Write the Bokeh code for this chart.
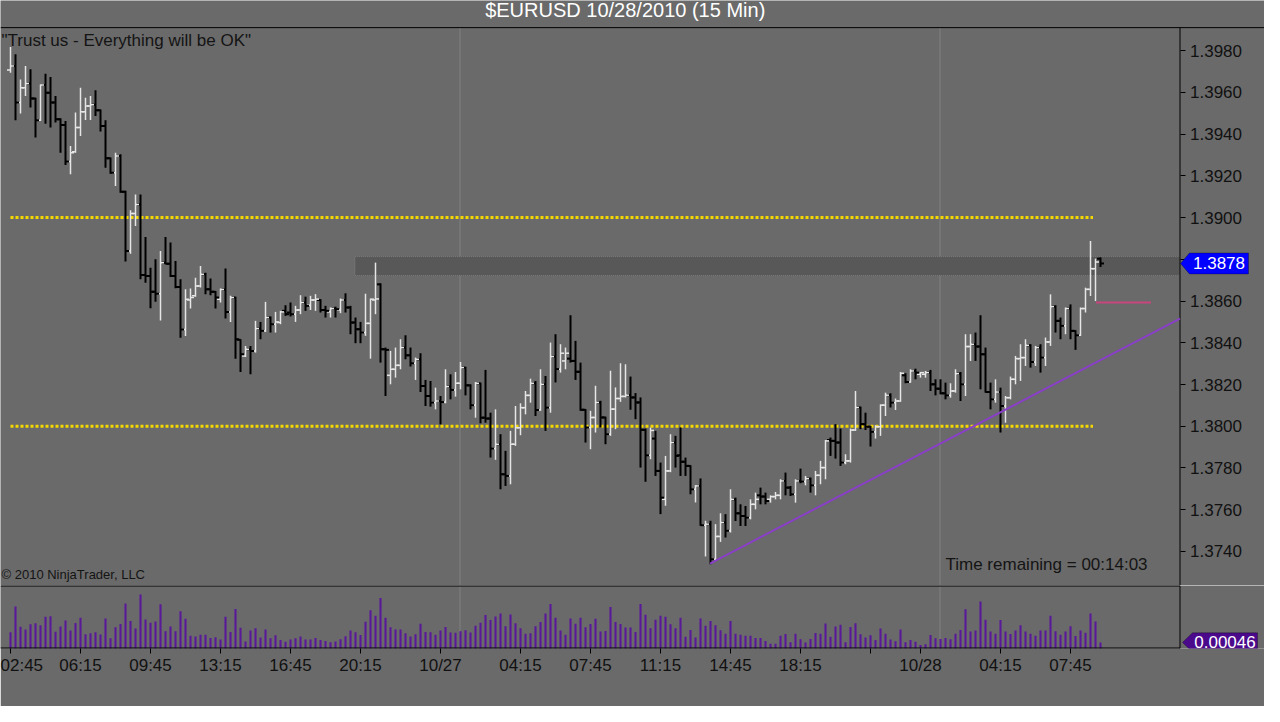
import numpy as np
from bokeh.plotting import figure
from bokeh.layouts import column
from bokeh.models import (ColumnDataSource, FixedTicker, Range1d, Span, BoxAnnotation,
                          Label, PolyAnnotation, NumeralTickFormatter)
from bokeh.embed import file_html
from bokeh.resources import INLINE

# ---------------- data: $EURUSD 15-min bars, 10/26 02:45 .. 10/28 09:15 ----------------
opens = [
    1.39707, 1.39726, 1.39551, 1.39622, 1.39642, 1.39570, 1.39466, 1.39635, 1.39598, 1.39551,
    1.39471, 1.39443, 1.39268, 1.39315, 1.39431, 1.39507, 1.39535, 1.39540, 1.39514, 1.39439,
    1.39284, 1.39215, 1.39295, 1.39124, 1.38840, 1.39019, 1.39063, 1.38725, 1.38720, 1.38645,
    1.38635, 1.38784, 1.38779, 1.38720, 1.38667, 1.38464, 1.38605, 1.38625, 1.38672, 1.38728,
    1.38657, 1.38644, 1.38609, 1.38655, 1.38548, 1.38617, 1.38414, 1.38337, 1.38369, 1.38361,
    1.38468, 1.38457, 1.38521, 1.38489, 1.38497, 1.38553, 1.38545, 1.38537, 1.38557, 1.38593,
    1.38580, 1.38605, 1.38605, 1.38557, 1.38548, 1.38564, 1.38557, 1.38605, 1.38569, 1.38497,
    1.38465, 1.38449, 1.38493, 1.38605, 1.38680, 1.38369, 1.38244, 1.38273, 1.38292, 1.38377,
    1.38340, 1.38302, 1.38321, 1.38193, 1.38145, 1.38113, 1.38121, 1.38116, 1.38190, 1.38174,
    1.38206, 1.38281, 1.38196, 1.38101, 1.38206, 1.38041, 1.38037, 1.37893, 1.37914, 1.37770,
    1.37762, 1.37914, 1.37993, 1.38089, 1.38148, 1.38206, 1.38078, 1.38201, 1.38089, 1.38334,
    1.38273, 1.38313, 1.38324, 1.38313, 1.38261, 1.38079, 1.37994, 1.38042, 1.38114, 1.38042,
    1.37962, 1.38082, 1.38133, 1.38143, 1.38149, 1.38138, 1.38114, 1.37983, 1.37861, 1.37941,
    1.37786, 1.37650, 1.37786, 1.37922, 1.37861, 1.37830, 1.37810, 1.37698, 1.37714, 1.37526,
    1.37531, 1.37363, 1.37472, 1.37539, 1.37499, 1.37650, 1.37583, 1.37570, 1.37562, 1.37626,
    1.37669, 1.37663, 1.37650, 1.37663, 1.37669, 1.37738, 1.37706, 1.37674, 1.37738, 1.37735,
    1.37749, 1.37717, 1.37765, 1.37802, 1.37934, 1.37930, 1.37922, 1.37826, 1.37834, 1.37982,
    1.38090, 1.38010, 1.37998, 1.37973, 1.37998, 1.38101, 1.38149, 1.38113, 1.38121, 1.38244,
    1.38212, 1.38265, 1.38249, 1.38249, 1.38257, 1.38201, 1.38180, 1.38158, 1.38148, 1.38169,
    1.38252, 1.38201, 1.38382, 1.38393, 1.38382, 1.38345, 1.38164, 1.38129, 1.38164, 1.38097,
    1.38137, 1.38225, 1.38324, 1.38329, 1.38388, 1.38308, 1.38377, 1.38329, 1.38404, 1.38573,
    1.38505, 1.38481, 1.38564, 1.38457, 1.38436, 1.38564, 1.38656, 1.38755, 1.38803,
]
highs = [
    1.39817, 1.39782, 1.39662, 1.39726, 1.39710, 1.39574, 1.39638, 1.39689, 1.39674, 1.39582,
    1.39476, 1.39463, 1.39343, 1.39503, 1.39622, 1.39574, 1.39582, 1.39610, 1.39518, 1.39466,
    1.39288, 1.39311, 1.39303, 1.39128, 1.39035, 1.39111, 1.39111, 1.38907, 1.38760, 1.38800,
    1.38840, 1.38907, 1.38880, 1.38792, 1.38704, 1.38656, 1.38660, 1.38712, 1.38768, 1.38736,
    1.38708, 1.38648, 1.38660, 1.38756, 1.38625, 1.38621, 1.38417, 1.38385, 1.38385, 1.38505,
    1.38500, 1.38596, 1.38526, 1.38548, 1.38553, 1.38580, 1.38593, 1.38577, 1.38628, 1.38621,
    1.38625, 1.38633, 1.38609, 1.38577, 1.38569, 1.38573, 1.38612, 1.38637, 1.38577, 1.38521,
    1.38500, 1.38635, 1.38612, 1.38784, 1.38685, 1.38377, 1.38361, 1.38377, 1.38417, 1.38436,
    1.38377, 1.38329, 1.38350, 1.38222, 1.38217, 1.38185, 1.38145, 1.38273, 1.38249, 1.38260,
    1.38308, 1.38285, 1.38201, 1.38212, 1.38209, 1.38270, 1.38065, 1.38081, 1.37962, 1.37882,
    1.37978, 1.38097, 1.38110, 1.38169, 1.38228, 1.38217, 1.38273, 1.38241, 1.38401, 1.38441,
    1.38393, 1.38377, 1.38532, 1.38409, 1.38305, 1.38082, 1.38074, 1.38194, 1.38122, 1.38046,
    1.38266, 1.38186, 1.38302, 1.38297, 1.38238, 1.38159, 1.38138, 1.37989, 1.37994, 1.37978,
    1.37826, 1.37858, 1.37962, 1.37954, 1.37994, 1.37850, 1.37813, 1.37718, 1.37750, 1.37547,
    1.37547, 1.37531, 1.37583, 1.37579, 1.37698, 1.37658, 1.37626, 1.37618, 1.37650, 1.37682,
    1.37706, 1.37682, 1.37669, 1.37685, 1.37746, 1.37778, 1.37714, 1.37746, 1.37797, 1.37762,
    1.37754, 1.37786, 1.37834, 1.37934, 1.37946, 1.38010, 1.37989, 1.37866, 1.37989, 1.38169,
    1.38094, 1.38065, 1.38002, 1.38005, 1.38105, 1.38161, 1.38158, 1.38133, 1.38260, 1.38254,
    1.38273, 1.38276, 1.38260, 1.38265, 1.38270, 1.38225, 1.38225, 1.38209, 1.38206, 1.38273,
    1.38260, 1.38441, 1.38441, 1.38449, 1.38532, 1.38377, 1.38209, 1.38225, 1.38185, 1.38145,
    1.38238, 1.38337, 1.38393, 1.38417, 1.38393, 1.38385, 1.38393, 1.38425, 1.38632, 1.38580,
    1.38521, 1.38569, 1.38584, 1.38460, 1.38569, 1.38664, 1.38888, 1.38803, 1.38809,
]
lows = [
    1.39694, 1.39466, 1.39498, 1.39582, 1.39527, 1.39383, 1.39463, 1.39450, 1.39431, 1.39455,
    1.39311, 1.39252, 1.39207, 1.39311, 1.39391, 1.39467, 1.39467, 1.39487, 1.39412, 1.39239,
    1.39210, 1.39151, 1.39119, 1.38789, 1.38827, 1.38960, 1.38704, 1.38688, 1.38565, 1.38597,
    1.38507, 1.38776, 1.38715, 1.38661, 1.38424, 1.38432, 1.38564, 1.38621, 1.38665, 1.38633,
    1.38628, 1.38564, 1.38593, 1.38516, 1.38500, 1.38324, 1.38260, 1.38332, 1.38249, 1.38353,
    1.38417, 1.38452, 1.38449, 1.38449, 1.38489, 1.38529, 1.38526, 1.38500, 1.38537, 1.38553,
    1.38557, 1.38553, 1.38545, 1.38521, 1.38521, 1.38521, 1.38542, 1.38545, 1.38441, 1.38398,
    1.38398, 1.38433, 1.38324, 1.38537, 1.38305, 1.38145, 1.38201, 1.38233, 1.38273, 1.38321,
    1.38286, 1.38222, 1.38164, 1.38097, 1.38094, 1.38081, 1.38009, 1.38110, 1.38129, 1.38142,
    1.38177, 1.38148, 1.38081, 1.38041, 1.38014, 1.38017, 1.37850, 1.37839, 1.37698, 1.37714,
    1.37722, 1.37906, 1.37957, 1.38057, 1.38113, 1.38049, 1.38074, 1.37978, 1.38065, 1.38210,
    1.38257, 1.38273, 1.38305, 1.38222, 1.38074, 1.37922, 1.37890, 1.37970, 1.37994, 1.37914,
    1.37954, 1.37986, 1.38117, 1.38138, 1.38079, 1.38034, 1.37802, 1.37734, 1.37842, 1.37762,
    1.37579, 1.37619, 1.37780, 1.37802, 1.37762, 1.37762, 1.37674, 1.37635, 1.37523, 1.37376,
    1.37339, 1.37355, 1.37446, 1.37467, 1.37491, 1.37546, 1.37522, 1.37522, 1.37554, 1.37602,
    1.37626, 1.37626, 1.37634, 1.37650, 1.37650, 1.37669, 1.37666, 1.37634, 1.37727, 1.37717,
    1.37682, 1.37669, 1.37722, 1.37746, 1.37858, 1.37845, 1.37810, 1.37818, 1.37826, 1.37978,
    1.37986, 1.37982, 1.37903, 1.37941, 1.37954, 1.38049, 1.38090, 1.38078, 1.38117, 1.38206,
    1.38209, 1.38225, 1.38233, 1.38233, 1.38169, 1.38148, 1.38153, 1.38129, 1.38137, 1.38161,
    1.38121, 1.38145, 1.38313, 1.38313, 1.38177, 1.38161, 1.38081, 1.38113, 1.37970, 1.38017,
    1.38129, 1.38201, 1.38217, 1.38289, 1.38281, 1.38289, 1.38257, 1.38289, 1.38385, 1.38449,
    1.38417, 1.38441, 1.38417, 1.38366, 1.38433, 1.38545, 1.38624, 1.38600, 1.38763,
]
closes = [
    1.39726, 1.39551, 1.39622, 1.39642, 1.39570, 1.39466, 1.39635, 1.39598, 1.39551, 1.39471,
    1.39443, 1.39268, 1.39311, 1.39431, 1.39507, 1.39535, 1.39540, 1.39514, 1.39439, 1.39284,
    1.39215, 1.39295, 1.39124, 1.38840, 1.39019, 1.39063, 1.38725, 1.38720, 1.38645, 1.38635,
    1.38784, 1.38779, 1.38720, 1.38667, 1.38464, 1.38608, 1.38617, 1.38672, 1.38728, 1.38657,
    1.38644, 1.38617, 1.38655, 1.38548, 1.38617, 1.38417, 1.38345, 1.38369, 1.38361, 1.38468,
    1.38457, 1.38521, 1.38489, 1.38500, 1.38548, 1.38537, 1.38537, 1.38557, 1.38593, 1.38577,
    1.38605, 1.38609, 1.38557, 1.38553, 1.38564, 1.38561, 1.38605, 1.38569, 1.38497, 1.38465,
    1.38449, 1.38493, 1.38609, 1.38610, 1.38369, 1.38366, 1.38273, 1.38292, 1.38377, 1.38340,
    1.38302, 1.38321, 1.38193, 1.38145, 1.38113, 1.38121, 1.38116, 1.38190, 1.38174, 1.38206,
    1.38281, 1.38196, 1.38101, 1.38206, 1.38041, 1.38037, 1.37893, 1.37914, 1.37770, 1.37762,
    1.37914, 1.37993, 1.38089, 1.38148, 1.38206, 1.38078, 1.38201, 1.38089, 1.38334, 1.38274,
    1.38350, 1.38350, 1.38313, 1.38261, 1.38079, 1.37994, 1.38042, 1.38114, 1.38042, 1.37962,
    1.38082, 1.38133, 1.38143, 1.38149, 1.38138, 1.38114, 1.37983, 1.37861, 1.37980, 1.37786,
    1.37658, 1.37786, 1.37922, 1.37858, 1.37830, 1.37810, 1.37698, 1.37714, 1.37526, 1.37531,
    1.37363, 1.37472, 1.37539, 1.37499, 1.37650, 1.37583, 1.37570, 1.37562, 1.37626, 1.37650,
    1.37663, 1.37642, 1.37663, 1.37669, 1.37738, 1.37706, 1.37674, 1.37738, 1.37735, 1.37749,
    1.37717, 1.37765, 1.37802, 1.37930, 1.37930, 1.37922, 1.37826, 1.37834, 1.37982, 1.38090,
    1.38010, 1.37998, 1.37973, 1.37998, 1.38101, 1.38149, 1.38113, 1.38121, 1.38254, 1.38212,
    1.38265, 1.38257, 1.38257, 1.38257, 1.38201, 1.38180, 1.38158, 1.38148, 1.38169, 1.38252,
    1.38201, 1.38382, 1.38393, 1.38382, 1.38345, 1.38164, 1.38129, 1.38164, 1.38097, 1.38137,
    1.38225, 1.38324, 1.38329, 1.38388, 1.38308, 1.38377, 1.38329, 1.38404, 1.38573, 1.38505,
    1.38481, 1.38564, 1.38457, 1.38436, 1.38564, 1.38656, 1.38755, 1.38787, 1.38780,
]
# lower panel: bar range indicator values
bar_range = [
    0.00123, 0.00316, 0.00164, 0.00144, 0.00183, 0.00191, 0.00175, 0.00239, 0.00243, 0.00127,
    0.00165, 0.00211, 0.00136, 0.00192, 0.00231, 0.00107, 0.00115, 0.00123, 0.00106, 0.00227,
    0.00078, 0.00160, 0.00184, 0.00339, 0.00208, 0.00151, 0.00407, 0.00219, 0.00195, 0.00203,
    0.00333, 0.00131, 0.00165, 0.00131, 0.00280, 0.00224, 0.00096, 0.00091, 0.00103, 0.00103,
    0.00080, 0.00084, 0.00067, 0.00240, 0.00125, 0.00297, 0.00157, 0.00053, 0.00136, 0.00152,
    0.00083, 0.00144, 0.00077, 0.00099, 0.00064, 0.00051, 0.00067, 0.00077, 0.00091, 0.00068,
    0.00068, 0.00080, 0.00064, 0.00056, 0.00048, 0.00052, 0.00070, 0.00092, 0.00136, 0.00123,
    0.00102, 0.00202, 0.00288, 0.00247, 0.00380, 0.00232, 0.00160, 0.00144, 0.00144, 0.00115,
    0.00091, 0.00107, 0.00186, 0.00125, 0.00123, 0.00104, 0.00136, 0.00163, 0.00120, 0.00118,
    0.00131, 0.00137, 0.00120, 0.00171, 0.00195, 0.00253, 0.00215, 0.00242, 0.00264, 0.00168,
    0.00256, 0.00191, 0.00153, 0.00112, 0.00115, 0.00168, 0.00199, 0.00263, 0.00336, 0.00231,
    0.00136, 0.00104, 0.00227, 0.00187, 0.00231, 0.00160, 0.00184, 0.00224, 0.00128, 0.00132,
    0.00312, 0.00200, 0.00185, 0.00159, 0.00159, 0.00125, 0.00336, 0.00255, 0.00152, 0.00216,
    0.00247, 0.00239, 0.00182, 0.00152, 0.00232, 0.00088, 0.00139, 0.00083, 0.00227, 0.00171,
    0.00208, 0.00176, 0.00137, 0.00112, 0.00207, 0.00112, 0.00104, 0.00096, 0.00096, 0.00080,
    0.00080, 0.00056, 0.00035, 0.00035, 0.00096, 0.00109, 0.00048, 0.00112, 0.00070, 0.00045,
    0.00072, 0.00117, 0.00112, 0.00188, 0.00088, 0.00165, 0.00179, 0.00048, 0.00163, 0.00191,
    0.00108, 0.00083, 0.00099, 0.00064, 0.00151, 0.00112, 0.00068, 0.00055, 0.00143, 0.00048,
    0.00064, 0.00051, 0.00027, 0.00032, 0.00101, 0.00077, 0.00072, 0.00080, 0.00069, 0.00112,
    0.00139, 0.00296, 0.00128, 0.00136, 0.00355, 0.00216, 0.00128, 0.00112, 0.00215, 0.00128,
    0.00109, 0.00136, 0.00176, 0.00128, 0.00112, 0.00096, 0.00136, 0.00136, 0.00247, 0.00131,
    0.00104, 0.00128, 0.00167, 0.00094, 0.00136, 0.00119, 0.00264, 0.00203, 0.00046,
]

# time axis (bar index of each labelled tick)
tick_bars = [0, 14, 28, 42, 56, 70, 86, 102, 116, 130, 144, 158, 172, 182, 198, 212]
tick_labels = ["02:45", "06:15", "09:45", "13:15", "16:45", "20:15", "10/27", "04:15",
               "07:45", "11:15", "14:45", "18:15", "", "10/28", "04:15", "07:45"]
price_ticks = [1.3740, 1.3760, 1.3780, 1.3800, 1.3820, 1.3840, 1.3860,
               1.3880, 1.3900, 1.3920, 1.3940, 1.3960, 1.3980]

# drawing objects
level_prices = [1.3900, 1.3800]
level_span_bars = [0, 216.5]
zone_bottom, zone_top = 1.38722, 1.38813
zone_start_bar = 68.9
trend_bars = [139.9, 233.9]
trend_prices = [1.37342, 1.38516]
stop_bars = [217.1, 228.1]
stop_price = 1.38593
session_bars = [89.9, 185.9]

TITLE = "$EURUSD  10/28/2010 (15 Min)"
NOTE = "\"Trust us - Everything will be OK\""
COPY = "\u00a9 2010 NinjaTrader, LLC"
TIMER = "Time remaining = 00:14:03"

# ---------------- styling / layout constants ----------------
BG = "#6a6a6a"
UP = "#e6e6e6"
DOWN = "#000000"
FONT = "Liberation Sans"
FS = "17px"
W = 1264
X0, X1 = -2.0, 250.8          # frame spans whole canvas width (5 px per bar)
AXIS_X = 233.9                # price axis position (bar units)
PRICE_LO, PRICE_HI = 1.37237, 1.39910   # price panel borders
TOP = 1.40040                 # top of canvas (title band)
TICK = 0.7
RMAX = 0.00475

idx = np.arange(len(opens))
o = np.array(opens); h = np.array(highs); l = np.array(lows); c = np.array(closes)
up = c > o
colors = np.where(up, UP, DOWN)
widths = np.where(up, 1.5, 2.0)
src = ColumnDataSource(dict(x=idx, xl=idx - TICK, xr=idx + TICK, o=o, h=h, l=l, c=c,
                            color=colors, lw=widths))

p = figure(width=W, height=585, x_range=Range1d(X0, X1), y_range=Range1d(PRICE_LO, TOP),
           output_backend="svg", toolbar_location=None, x_axis_location=None,
           y_axis_location="right", min_border_left=0, min_border_right=0,
           min_border_top=0, min_border_bottom=0, background_fill_color=BG,
           border_fill_color=BG, outline_line_color=None)
p.grid.visible = False
ya = p.yaxis[0]
ya.fixed_location = AXIS_X
ya.ticker = FixedTicker(ticks=price_ticks)
ya.formatter = NumeralTickFormatter(format="0.0000")
ya.major_label_text_font = FONT
ya.major_label_text_font_size = FS
ya.major_label_text_color = "#111111"
ya.axis_line_color = None
ya.major_tick_line_color = "black"
ya.major_tick_out = 5
ya.major_tick_in = 0
ya.minor_tick_line_color = None
ya.major_label_standoff = 5

# panel borders and session separators
p.add_layout(Span(location=PRICE_HI, dimension="width", line_color="black", line_width=1))
p.segment(x0=[AXIS_X], x1=[AXIS_X], y0=[PRICE_LO], y1=[PRICE_HI], line_color="black", line_width=1)
p.segment(x0=session_bars, x1=session_bars, y0=[PRICE_LO] * 2, y1=[PRICE_HI] * 2,
          line_color="#808080", line_width=1, level="underlay")

p.add_layout(BoxAnnotation(left=zone_start_bar, right=AXIS_X, bottom=zone_bottom, top=zone_top,
                           fill_color="#585858", fill_alpha=1.0, line_color="#b4b4b4",
                           line_dash="1 1", line_width=1, level="underlay"))

# horizontal dotted levels
p.segment(x0=[level_span_bars[0]] * 2, x1=[level_span_bars[1]] * 2, y0=level_prices, y1=level_prices,
          line_color="#f5d800", line_width=3, line_dash="3 2")

# OHLC bars
p.segment(x0="x", y0="l", x1="x", y1="h", line_color="color", line_width="lw", source=src)
p.segment(x0="xl", y0="o", x1="x", y1="o", line_color="color", line_width="lw", source=src)
p.segment(x0="x", y0="c", x1="xr", y1="c", line_color="color", line_width="lw", source=src)

# trend line and stop line
p.line(x=trend_bars, y=trend_prices, line_color="#8a3fc8", line_width=2)
p.line(x=stop_bars, y=[stop_price, stop_price], line_color="#c8457e", line_width=2)

p.add_layout(Label(x=123.5, y=1.39996, text=TITLE, text_align="center", text_baseline="middle",
                   text_color="white", text_font=FONT, text_font_size="20px"))
p.add_layout(Label(x=-1.8, y=1.39848, text=NOTE, text_align="left", text_baseline="middle",
                   text_color="#141414", text_font=FONT, text_font_size=FS))
p.add_layout(Label(x=-1.8, y=1.37290, text=COPY, text_align="left", text_baseline="middle",
                   text_color="#141414", text_font=FONT, text_font_size="13px"))
p.add_layout(Label(x=187.0, y=1.37338, text=TIMER, text_align="left", text_baseline="middle",
                   text_color="#141414", text_font=FONT, text_font_size=FS))

# last price tag
last = closes[-1]
hh = 0.00050
p.add_layout(PolyAnnotation(xs=[234.0, 235.8, 247.6, 247.6, 235.8],
                            ys=[last, last + hh, last + hh, last - hh, last - hh],
                            fill_color="#0000ff", fill_alpha=1.0, line_color="#000000", line_width=1))
p.add_layout(Label(x=241.7, y=last, text=f"{last:.4f}", text_align="center", text_baseline="middle",
                   text_color="white", text_font=FONT, text_font_size=FS))

# ---------------- lower panel ----------------
p2 = figure(width=W, height=121, x_range=p.x_range, y_range=Range1d(0, RMAX),
            output_backend="svg", toolbar_location=None, y_axis_location=None,
            min_border_left=0, min_border_right=0, min_border_top=0, min_border_bottom=58,
            background_fill_color=BG, border_fill_color=BG, outline_line_color=None)
p2.grid.visible = False
p2.segment(x0=session_bars, x1=session_bars, y0=[0, 0], y1=[RMAX, RMAX],
           line_color="#808080", line_width=1, level="underlay")
p2.vbar(x=idx, top=bar_range, bottom=0, width=0.42, fill_color="#5a189a", line_color=None)
# panel box (top, right, bottom)
p2.segment(x0=[X0, AXIS_X, X0], x1=[AXIS_X, AXIS_X, AXIS_X], y0=[RMAX, 0, 0], y1=[RMAX, RMAX, 0],
           line_color="black", line_width=[2, 1, 2])

xa = p2.xaxis[0]
xa.ticker = FixedTicker(ticks=tick_bars)
xa.major_label_overrides = {b: t for b, t in zip(tick_bars, tick_labels)}
xa.major_label_text_font = FONT
xa.major_label_text_font_size = FS
xa.major_label_text_color = "#111111"
xa.axis_line_color = None
xa.major_tick_line_color = "black"
xa.major_tick_out = 5
xa.major_tick_in = 0
xa.minor_tick_line_color = None
xa.major_label_standoff = 2

lr = bar_range[-1]
th = 0.00072
p2.add_layout(PolyAnnotation(xs=[234.4, 236.4, 249.4, 249.4, 236.4],
                             ys=[lr, lr + th, lr + th, lr - th, lr - th],
                             fill_color="#4b0a8c", fill_alpha=1.0, line_color="#000000", line_width=1))
p2.add_layout(Label(x=242.9, y=lr, text=f"{lr:.5f}", text_align="center", text_baseline="middle",
                    text_color="white", text_font=FONT, text_font_size=FS))

layout = column(p, p2, spacing=0)
open("out.html", "w").write(file_html(layout, INLINE))
